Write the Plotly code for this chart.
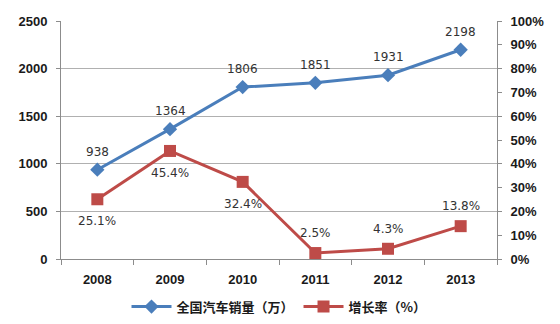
import plotly.graph_objects as go

years = ["2008", "2009", "2010", "2011", "2012", "2013"]
sales = [938, 1364, 1806, 1851, 1931, 2198]
growth = [25.1, 45.4, 32.4, 2.5, 4.3, 13.8]
growth_label_above = [False, False, False, True, True, True]
sales_name = "全国汽车销量（万）"
growth_name = "增长率（%）"

blue = "#4a7ebb"
red = "#be4b48"
label_font = dict(family="DejaVu Sans", size=12, color="#333333")
tick_font = dict(family="Liberation Sans", size=13, color="#1a1a1a", weight="bold")

fig = go.Figure()
fig.add_trace(go.Scatter(
    x=years, y=sales, name=sales_name, mode="lines+markers",
    line=dict(color=blue, width=3),
    marker=dict(symbol="diamond", size=11, color=blue),
))
fig.add_trace(go.Scatter(
    x=years, y=[g / 100 for g in growth], name=growth_name, yaxis="y2",
    mode="lines+markers",
    line=dict(color=red, width=3),
    marker=dict(symbol="square", size=12, color=red),
))

# data labels, anchored to each point (by category index) and nudged off the marker
for i, v in enumerate(sales):
    fig.add_annotation(x=i, y=v, xref="x", yref="y", text=str(v),
                       showarrow=False, yshift=18, font=label_font)
for i, (g, above) in enumerate(zip(growth, growth_label_above)):
    fig.add_annotation(x=i, y=g / 100, xref="x", yref="y2", text=f"{g:.1f}%",
                       showarrow=False, yshift=20 if above else -22,
                       font=label_font)

fig.update_layout(
    width=560, height=324,
    margin=dict(l=61, r=63, t=21, b=65, autoexpand=False),
    paper_bgcolor="white", plot_bgcolor="white",
    xaxis=dict(
        type="category", range=[-0.5, 5.5], showgrid=False,
        showline=True, linecolor="#8c8c8c", linewidth=1,
        ticks="outside", tickson="boundaries", ticklen=5, tickcolor="#8c8c8c",
        tickfont=tick_font, ticklabelstandoff=8,
    ),
    yaxis=dict(
        range=[0, 2500], dtick=500, showgrid=True, gridcolor="#b0b0b0",
        showline=True, linecolor="#8c8c8c", linewidth=1,
        ticks="outside", ticklen=4, tickcolor="#8c8c8c",
        tickfont=tick_font, zeroline=False, ticklabelstandoff=6,
    ),
    yaxis2=dict(
        range=[0, 1], dtick=0.1, tickformat=".0%", overlaying="y", side="right",
        showgrid=False, showline=True, linecolor="#8c8c8c", linewidth=1,
        ticks="outside", ticklen=4, tickcolor="#8c8c8c",
        tickfont=tick_font, zeroline=False, ticklabelstandoff=6,
    ),
    legend=dict(
        orientation="h", x=0.5, xanchor="center", y=-0.2, yanchor="middle",
        font=dict(family="Noto Sans CJK SC", size=13, color="#1a1a1a", weight="bold"),
        itemwidth=40,
    ),
    showlegend=True,
)

fig.write_html("out.html")
